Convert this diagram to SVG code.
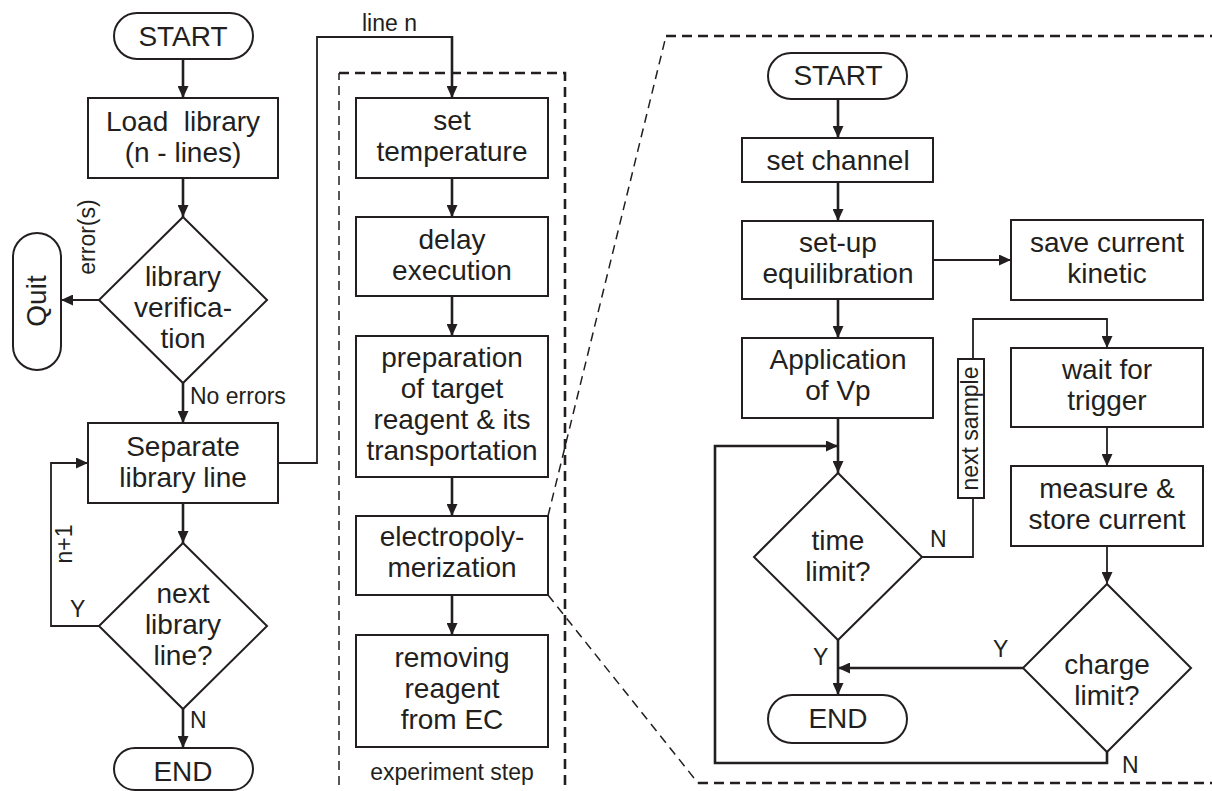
<svg xmlns="http://www.w3.org/2000/svg" width="1212" height="791" viewBox="0 0 1212 791">
<style>
.t{font-family:"Liberation Sans",Arial,sans-serif;font-size:28px;fill:#231f20;text-anchor:middle}
.l{font-family:"Liberation Sans",Arial,sans-serif;font-size:23px;fill:#231f20}
.b{fill:#fff;stroke:#231f20;stroke-width:2}
.c{fill:none;stroke:#231f20;stroke-width:2.6}
.c2{fill:none;stroke:#231f20;stroke-width:1.8}
.dt{fill:none;stroke:#231f20;stroke-width:2.6;stroke-dasharray:10 6}
.dn{fill:none;stroke:#231f20;stroke-width:1.5;stroke-dasharray:9 6}
</style>
<defs>
<marker id="a" markerUnits="userSpaceOnUse" markerWidth="12" markerHeight="11" refX="12" refY="5.5" orient="auto">
<path d="M0,0 L12,5.5 L0,11 z" fill="#231f20"/>
</marker>
</defs>

<g id="frames">
<path class="dn" d="M339,800 V73"/>
<path class="dt" d="M339,73 H565 V800"/>
<path class="dn" d="M548,516 L666,36"/>
<path class="dt" d="M666,36 H1212"/>
<path class="dn" d="M548,595 L698,783"/>
<path class="dt" d="M698,783 H1212"/>
<text class="l" x="452" y="780" text-anchor="middle">experiment step</text>
</g>

<g id="connectors">
<path class="c" d="M183,59 V98" marker-end="url(#a)"/>
<path class="c" d="M183,178 V217" marker-end="url(#a)"/>
<path class="c2" d="M99,300 H61" marker-end="url(#a)"/>
<path class="c" d="M183,383 V423" marker-end="url(#a)"/>
<path class="c" d="M183,503 V543" marker-end="url(#a)"/>
<path class="c2" d="M99,626 H51 V463 H88" marker-end="url(#a)"/>
<path class="c" d="M183,709 V748" marker-end="url(#a)"/>
<path class="c2" d="M278,463 H317 V37 H452"/>
<path class="c" d="M452,36 V98" marker-end="url(#a)"/>
<path class="c" d="M452,178 V217" marker-end="url(#a)"/>
<path class="c" d="M452,296 V336" marker-end="url(#a)"/>
<path class="c" d="M452,477 V516" marker-end="url(#a)"/>
<path class="c" d="M452,595 V635" marker-end="url(#a)"/>
<path class="c" d="M838,99 V138" marker-end="url(#a)"/>
<path class="c" d="M838,182 V221" marker-end="url(#a)"/>
<path class="c2" d="M933,260 H1011" marker-end="url(#a)"/>
<path class="c" d="M838,299 V338" marker-end="url(#a)"/>
<path class="c" d="M838,418 V473" marker-end="url(#a)"/>
<path class="c" d="M1107,752 V763 H715 V446 H838" marker-end="url(#a)"/>
<path class="c2" d="M922,557 H973 V319 H1107 V348" marker-end="url(#a)"/>
<path class="c2" d="M1107,427 V466" marker-end="url(#a)"/>
<path class="c2" d="M1107,546 V584" marker-end="url(#a)"/>
<path class="c" d="M1023,668 H838" marker-end="url(#a)"/>
<path class="c" d="M838,640 V695" marker-end="url(#a)"/>
<rect class="b" x="958" y="359" width="26" height="139" stroke-width="1.6"/>
<text class="l" transform="translate(978,428.5) rotate(-90)" text-anchor="middle">next sample</text>
<text class="l" transform="translate(95,237) rotate(-90)" text-anchor="middle">error(s)</text>
<text class="l" x="190" y="404">No errors</text>
<text class="l" transform="translate(72,544) rotate(-90)" text-anchor="middle">n+1</text>
<text class="l" x="70" y="617">Y</text>
<text class="l" x="190" y="728">N</text>
<text class="l" x="362" y="31">line n</text>
<text class="l" x="930" y="547">N</text>
<text class="l" x="813" y="665">Y</text>
<text class="l" x="993" y="657">Y</text>
<text class="l" x="1122" y="773">N</text>
</g>

<g id="start1"><rect class="b" x="114" y="13" width="139" height="46" rx="23"/><text class="t" x="183" y="46">START</text></g>
<g id="load"><rect class="b" x="88" y="98" width="190" height="80"/><text class="t" x="183" y="131" style="white-space:pre">Load  library</text><text class="t" x="183" y="162">(n - lines)</text></g>
<g id="verify"><polygon class="b" points="183,217 267,300 183,383 99,300"/><text class="t" x="183" y="286">library</text><text class="t" x="183" y="317">verifica-</text><text class="t" x="183" y="348">tion</text></g>
<g id="quit"><rect class="b" x="13" y="233" width="48" height="137" rx="24"/><text class="t" transform="translate(46,301) rotate(-90)">Quit</text></g>
<g id="separate"><rect class="b" x="88" y="423" width="190" height="80"/><text class="t" x="183" y="456">Separate</text><text class="t" x="183" y="487">library line</text></g>
<g id="nextline"><polygon class="b" points="183,543 267,626 183,709 99,626"/><text class="t" x="183" y="603">next</text><text class="t" x="183" y="634">library</text><text class="t" x="183" y="665">line?</text></g>
<g id="end1"><rect class="b" x="114" y="748" width="139" height="42" rx="21"/><text class="t" x="183" y="781">END</text></g>

<g id="settemp"><rect class="b" x="356" y="98" width="192" height="80"/><text class="t" x="452" y="130">set</text><text class="t" x="452" y="161">temperature</text></g>
<g id="delay"><rect class="b" x="356" y="217" width="192" height="79"/><text class="t" x="452" y="249">delay</text><text class="t" x="452" y="280">execution</text></g>
<g id="prep"><rect class="b" x="356" y="336" width="192" height="141"/><text class="t" x="452" y="367">preparation</text><text class="t" x="452" y="398">of target</text><text class="t" x="452" y="429">reagent &amp; its</text><text class="t" x="452" y="460">transportation</text></g>
<g id="electro"><rect class="b" x="356" y="516" width="192" height="79"/><text class="t" x="452" y="546">electropoly-</text><text class="t" x="452" y="577">merization</text></g>
<g id="remove"><rect class="b" x="356" y="635" width="192" height="112"/><text class="t" x="452" y="667">removing</text><text class="t" x="452" y="698">reagent</text><text class="t" x="452" y="729">from EC</text></g>

<g id="start2"><rect class="b" x="768" y="53" width="139" height="46" rx="23"/><text class="t" x="838" y="85">START</text></g>
<g id="channel"><rect class="b" x="742" y="138" width="191" height="44"/><text class="t" x="838" y="170">set channel</text></g>
<g id="equil"><rect class="b" x="742" y="221" width="191" height="78"/><text class="t" x="838" y="252">set-up</text><text class="t" x="838" y="283">equilibration</text></g>
<g id="save"><rect class="b" x="1011" y="220" width="192" height="80"/><text class="t" x="1107" y="252">save current</text><text class="t" x="1107" y="283">kinetic</text></g>
<g id="apply"><rect class="b" x="742" y="338" width="191" height="80"/><text class="t" x="838" y="369">Application</text><text class="t" x="838" y="400">of Vp</text></g>
<g id="timelimit"><polygon class="b" points="838,473 922,557 838,640 754,557"/><text class="t" x="838" y="550">time</text><text class="t" x="838" y="581">limit?</text></g>
<g id="wait"><rect class="b" x="1011" y="348" width="192" height="79"/><text class="t" x="1107" y="379">wait for</text><text class="t" x="1107" y="410">trigger</text></g>
<g id="measure"><rect class="b" x="1011" y="466" width="192" height="80"/><text class="t" x="1107" y="498">measure &amp;</text><text class="t" x="1107" y="529">store current</text></g>
<g id="charge"><polygon class="b" points="1107,584 1191,668 1107,752 1023,668"/><text class="t" x="1107" y="674">charge</text><text class="t" x="1107" y="705">limit?</text></g>
<g id="end2"><rect class="b" x="768" y="695" width="139" height="48" rx="24"/><text class="t" x="838" y="728">END</text></g>
</svg>
